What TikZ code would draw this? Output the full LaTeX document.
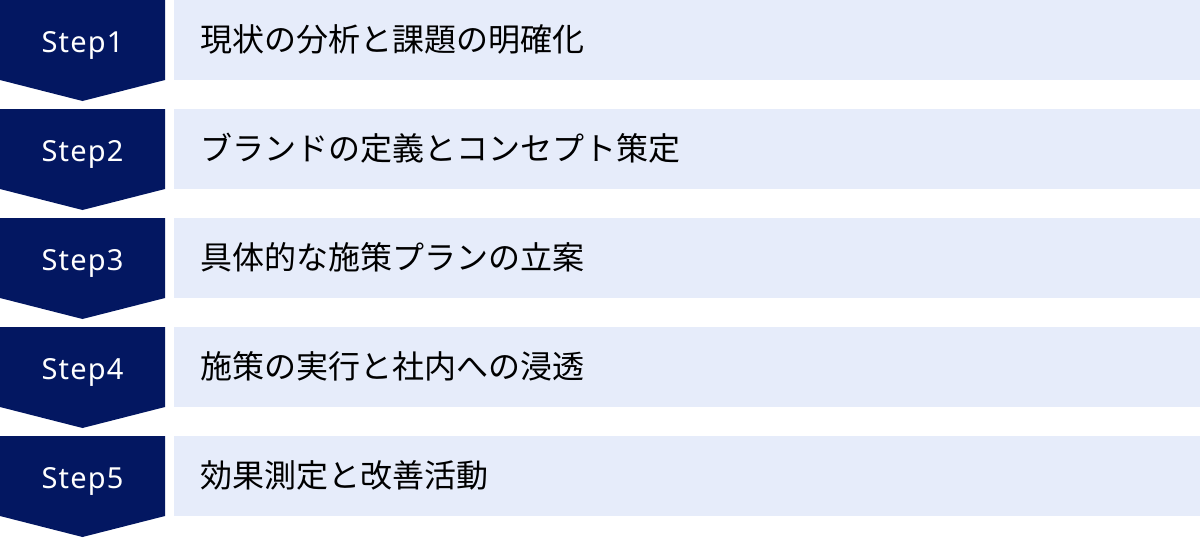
\documentclass[tikz,border=0pt]{standalone}
\usepackage{fontspec}
\newfontfamily\jpfont{Noto Sans CJK JP}
\newfontfamily\stepfont[LetterSpace=4]{Noto Sans}
\definecolor{navy}{RGB}{3,23,97}
\definecolor{lightbg}{RGB}{230,236,250}
\begin{document}
\begin{tikzpicture}[x=1pt,y=-1pt,
  chev/.style={fill=navy,draw=none},
  bar/.style={fill=lightbg,draw=none},
  steplabel/.style={text=white,font=\stepfont\fontsize{29}{34}\selectfont,anchor=base,inner sep=0pt},
  itemlabel/.style={text=black,font=\jpfont\fontsize{32}{38}\selectfont,anchor=west,inner sep=0pt}]
\useasboundingbox (0,0) rectangle (1200,538);
\foreach \i/\t in {0/現状の分析と課題の明確化,1/ブランドの定義とコンセプト策定,2/具体的な施策プランの立案,3/施策の実行と社内への浸透,4/効果測定と改善活動}{
  \pgfmathsetmacro{\yy}{109*\i}
  \fill[chev] (0,\yy) -- (165,\yy) -- (165,\yy+80) -- (82.5,\yy+101) -- (0,\yy+80) -- cycle;
  \fill[bar] (174,\yy) rectangle (1200,\yy+80);
  \pgfmathtruncatemacro{\n}{\i+1}
  \node[steplabel] (s\n) at (82.5,\yy+52) {Step\n};
  \node[itemlabel] (t\n) at (200,\yy+39.5) {\t};
}
\end{tikzpicture}
\end{document}
